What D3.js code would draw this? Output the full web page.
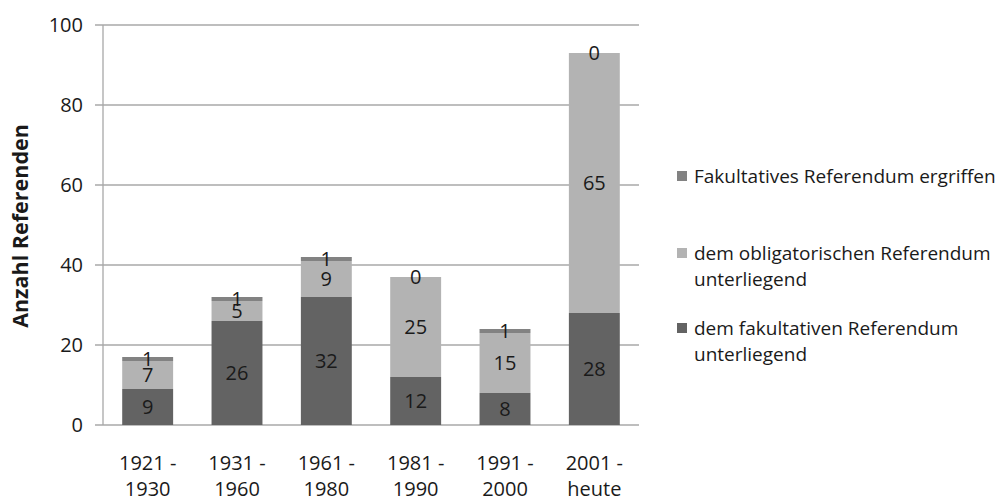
<!DOCTYPE html>
<html><head><meta charset="utf-8">
<script src="https://cdn.jsdelivr.net/npm/d3@7"></script>
<style>
body{margin:0;background:#fff;}
text{font-family:"Open Sans",sans-serif;fill:#1a1a1a;}
</style></head>
<body>
<svg id="chart" width="1001" height="502"></svg>
<script>
const categories = [["1921 -","1930"],["1931 -","1960"],["1961 -","1980"],["1981 -","1990"],["1991 -","2000"],["2001 -","heute"]];
const fakultativUnterliegend = [9, 26, 32, 12, 8, 28];
const obligatorischUnterliegend = [7, 5, 9, 25, 15, 65];
const fakultativErgriffen = [1, 1, 1, 0, 1, 0];
const seriesNames = ["dem fakultativen Referendum unterliegend","dem obligatorischen Referendum unterliegend","Fakultatives Referendum ergriffen"];
const yTicks = [0, 20, 40, 60, 80, 100];

(function(){
const colors = ["#636363", "#b3b3b3", "#828282"];
const svg = d3.select("#chart");
const pl = 103, pr = 639, pt = 25, pb = 425;

const x = d3.scaleBand().domain(d3.range(categories.length)).range([pl, pr]).paddingInner(0.43).paddingOuter(0.215);
const y = d3.scaleLinear().domain([0, 100]).range([pb, pt]);

svg.append("g").selectAll("line").data(yTicks).join("line")
  .attr("x1", pl - 8).attr("x2", pr).attr("y1", d => y(d)).attr("y2", d => y(d))
  .attr("stroke", "#a8a8a8").attr("stroke-width", 1.3);
svg.append("line").attr("x1", pl).attr("x2", pl).attr("y1", pt).attr("y2", pb)
  .attr("stroke", "#a8a8a8").attr("stroke-width", 1.3);

svg.append("g").selectAll("text").data(yTicks).join("text")
  .attr("x", 83).attr("y", d => y(d)).attr("dy", "0.35em").attr("text-anchor", "end")
  .style("font-size", "20px").text(d => d);

svg.append("text").attr("transform", "translate(28,226) rotate(-90)").attr("text-anchor", "middle")
  .style("font-size", "21.5px").style("font-weight", "bold").text("Anzahl Referenden");

const rows = categories.map((c, i) => ({i, a: fakultativUnterliegend[i], b: obligatorischUnterliegend[i], c: fakultativErgriffen[i]}));
const stack = d3.stack().keys(["a", "b", "c"])(rows);

const g = svg.append("g");
stack.forEach((layer, k) => {
  g.append("g").selectAll("rect").data(layer).join("rect")
    .attr("x", d => x(d.data.i)).attr("width", x.bandwidth())
    .attr("y", d => y(d[1])).attr("height", d => y(d[0]) - y(d[1]))
    .attr("fill", colors[k]);
});
stack.forEach((layer, k) => {
  g.append("g").selectAll("text").data(layer).join("text")
    .attr("x", d => x(d.data.i) + x.bandwidth() / 2)
    .attr("y", d => (y(d[0]) + y(d[1])) / 2).attr("dy", "0.35em")
    .attr("text-anchor", "middle").style("font-size", "20px")
    .text(d => d[1] - d[0]);
});

const xl = svg.append("g").selectAll("text").data(categories).join("text")
  .attr("x", (d, i) => x(i) + x.bandwidth() / 2).attr("y", 470)
  .attr("text-anchor", "middle").style("font-size", "20px");
xl.append("tspan").attr("x", (d, i) => x(i) + x.bandwidth() / 2).text(d => d[0]);
xl.append("tspan").attr("x", (d, i) => x(i) + x.bandwidth() / 2).attr("dy", 26).text(d => d[1]);

const legendItems = [
  {k: 2, lines: ["Fakultatives Referendum ergriffen"], y: 176},
  {k: 1, lines: ["dem obligatorischen Referendum", "unterliegend"], y: 253},
  {k: 0, lines: ["dem fakultativen Referendum", "unterliegend"], y: 328}
];
const lg = svg.append("g").selectAll("g").data(legendItems).join("g");
lg.append("rect").attr("x", 677).attr("y", d => d.y - 5).attr("width", 10).attr("height", 10)
  .attr("fill", d => colors[d.k]);
lg.each(function(d) {
  const t = d3.select(this).append("text").attr("x", 694).attr("y", d.y)
    .style("font-size", "19px");
  d.lines.forEach((l, j) => t.append("tspan").attr("x", 694).attr("dy", j === 0 ? "0.35em" : 26).text(l));
});
})();
</script>
</body></html>
